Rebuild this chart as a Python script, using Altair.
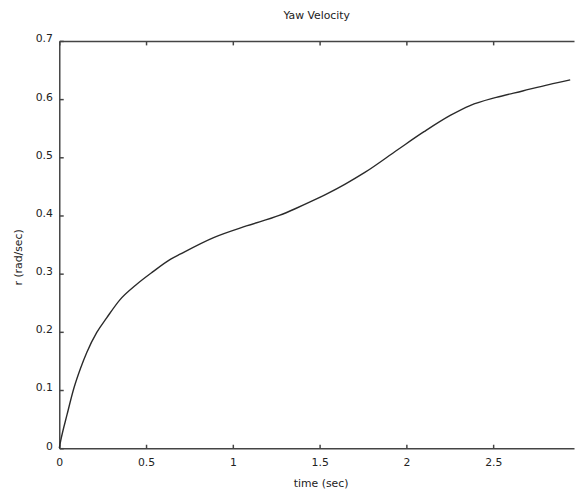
import altair as alt
import pandas as pd

# Data
time_sec = [0, 0.008, 0.045, 0.084, 0.122, 0.159, 0.216, 0.273, 0.349, 0.443,
            0.538, 0.642, 0.699, 0.889, 1.078, 1.267, 1.362, 1.457, 1.547, 1.647,
            1.76, 1.949, 2.101, 2.252, 2.366, 2.517, 2.669, 2.82, 2.943]
yaw_rate = [0, 0.0125, 0.058, 0.103, 0.137, 0.165, 0.199, 0.224, 0.255, 0.281,
            0.303, 0.325, 0.334, 0.362, 0.382, 0.400, 0.412, 0.425, 0.438, 0.454,
            0.474, 0.513, 0.544, 0.572, 0.589, 0.603, 0.614, 0.625, 0.633]
x_ticks = [0, 0.5, 1, 1.5, 2, 2.5]
y_ticks = [0, 0.1, 0.2, 0.3, 0.4, 0.5, 0.6, 0.7]

df = pd.DataFrame({"t": time_sec, "r": yaw_rate})

W, H = 522, 413
FONT = "DejaVu Sans"
AX = "#444444"
TXT = "#222222"

x_scale = alt.Scale(domain=[0, 2.965], nice=False, zero=False)
y_scale = alt.Scale(domain=[0, 0.7], nice=False)

base = alt.Chart(df)

main = base.mark_line(color="#2a2a2a", strokeWidth=1.4, interpolate="monotone").encode(
    x=alt.X("t:Q", scale=x_scale,
            axis=alt.Axis(orient="bottom", values=x_ticks, format="~g", ticks=False,
                          domain=True, domainColor=AX, domainWidth=1.5, grid=False,
                          labelFlush=False, labelPadding=9, labelFont=FONT,
                          labelFontSize=11, labelColor=TXT, title="time (sec)",
                          titleFont=FONT, titleFontSize=11, titleFontWeight="normal",
                          titleColor=TXT, titlePadding=10, titleX=265)),
    y=alt.Y("r:Q", scale=y_scale,
            axis=alt.Axis(orient="left", values=y_ticks, format="~g", ticks=False,
                          domain=True, domainColor=AX, domainWidth=1.5, grid=False,
                          labelFlush=False, labelPadding=7, labelOffset=-2,
                          labelFont=FONT, labelFontSize=11, labelColor=TXT,
                          title="r (rad/sec)", titleFont=FONT, titleFontSize=11,
                          titleFontWeight="normal", titleColor=TXT, titlePadding=12,
                          titleY=219)),
)

# inward ticks on bottom and left edges
inner1 = base.mark_line(strokeOpacity=0).encode(
    x=alt.X("t:Q", scale=x_scale,
            axis=alt.Axis(orient="top", offset=-H, values=x_ticks, domain=False,
                          labels=False, ticks=True, tickSize=4, tickColor=AX,
                          tickWidth=1.5, grid=False, title=None)),
    y=alt.Y("r:Q", scale=y_scale,
            axis=alt.Axis(orient="right", offset=-W, values=y_ticks, domain=False,
                          labels=False, ticks=True, tickSize=4, tickColor=AX,
                          tickWidth=1.5, grid=False, title=None)),
)

# top border with inward ticks
inner2 = base.mark_line(strokeOpacity=0).encode(
    x=alt.X("t:Q", scale=x_scale,
            axis=alt.Axis(orient="bottom", offset=-H, values=x_ticks, domain=True,
                          domainColor=AX, domainWidth=1.5, labels=False, ticks=True,
                          tickSize=4, tickColor=AX, tickWidth=1.5, grid=False,
                          title=None)),
    y=alt.Y("r:Q", scale=y_scale, axis=None),
)

chart = alt.layer(main, inner1, inner2).resolve_axis(
    x="independent", y="independent"
).properties(
    width=W,
    height=H,
    title=alt.TitleParams("Yaw Velocity", font=FONT, fontSize=11, fontWeight="normal",
                          color=TXT, anchor="middle", offset=12, frame="group"),
    autosize=alt.AutoSizeParams(type="none"),
    padding={"left": 52, "top": 30, "right": 1, "bottom": 40},
).configure_view(stroke=None)

chart.save("out.html", embed_options={"renderer": "svg", "actions": False})
